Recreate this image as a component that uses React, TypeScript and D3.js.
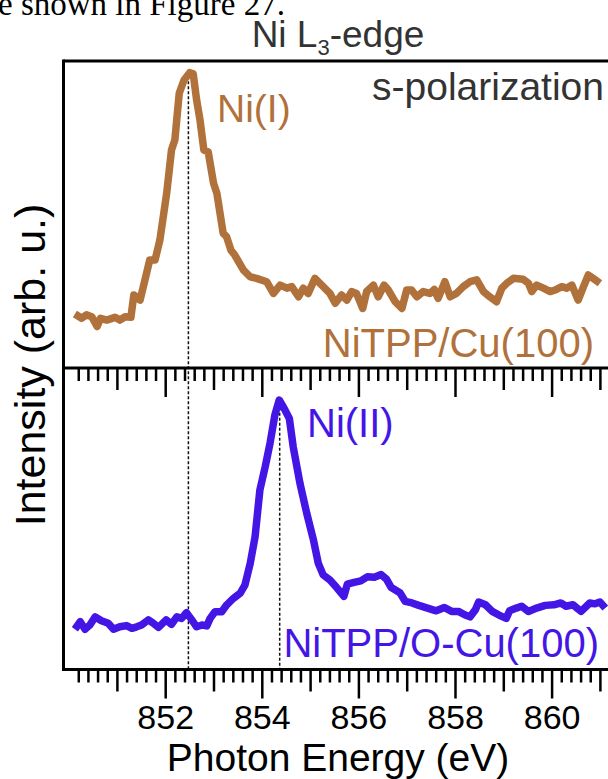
import * as d3 from 'd3';

// Ni L3-edge NEXAFS, s-polarization
const topEnergy = [850.12, 850.26, 850.36, 850.47, 850.58, 850.65, 850.78, 850.95, 851.05, 851.16, 851.28, 851.34, 851.47, 851.67, 851.78, 851.88, 852.02, 852.12, 852.19, 852.28, 852.38, 852.5, 852.57, 852.64, 852.71, 852.79, 852.88, 852.99, 853.06, 853.19, 853.26, 853.35, 853.43, 853.61, 853.75, 853.88, 854.09, 854.23, 854.37, 854.51, 854.61, 854.75, 854.85, 854.95, 855.09, 855.23, 855.4, 855.51, 855.64, 855.75, 855.85, 855.95, 856.08, 856.16, 856.3, 856.4, 856.52, 856.61, 856.75, 856.89, 856.99, 857.09, 857.2, 857.33, 857.47, 857.56, 857.64, 857.78, 857.89, 858.02, 858.16, 858.3, 858.44, 858.58, 858.71, 858.85, 858.96, 859.06, 859.2, 859.4, 859.51, 859.58, 859.68, 859.82, 859.96, 860.06, 860.2, 860.3, 860.41, 860.54, 860.65, 860.75, 860.85, 860.99];
const topIntensity = [0.176, 0.162, 0.173, 0.167, 0.135, 0.162, 0.156, 0.165, 0.156, 0.167, 0.165, 0.238, 0.221, 0.352, 0.352, 0.417, 0.569, 0.71, 0.743, 0.895, 0.938, 0.962, 0.958, 0.873, 0.808, 0.71, 0.704, 0.602, 0.569, 0.439, 0.428, 0.384, 0.368, 0.319, 0.297, 0.292, 0.281, 0.243, 0.27, 0.26, 0.265, 0.232, 0.26, 0.243, 0.292, 0.27, 0.243, 0.211, 0.238, 0.221, 0.249, 0.243, 0.194, 0.249, 0.27, 0.232, 0.27, 0.254, 0.216, 0.194, 0.254, 0.254, 0.232, 0.249, 0.243, 0.256, 0.227, 0.281, 0.232, 0.243, 0.265, 0.281, 0.287, 0.249, 0.232, 0.216, 0.26, 0.276, 0.292, 0.289, 0.276, 0.249, 0.27, 0.26, 0.249, 0.254, 0.265, 0.26, 0.27, 0.221, 0.265, 0.303, 0.292, 0.276];

const botEnergy = [850.12, 850.23, 850.33, 850.43, 850.54, 850.67, 850.81, 850.92, 851.05, 851.19, 851.3, 851.4, 851.5, 851.64, 851.74, 851.85, 852.01, 852.12, 852.23, 852.33, 852.43, 852.54, 852.64, 852.75, 852.85, 852.92, 853.02, 853.16, 853.26, 853.4, 853.54, 853.64, 853.75, 853.85, 853.95, 854.06, 854.16, 854.26, 854.35, 854.45, 854.56, 854.64, 854.78, 854.92, 855.06, 855.16, 855.26, 855.4, 855.54, 855.69, 855.76, 855.9, 856.04, 856.18, 856.32, 856.46, 856.57, 856.67, 856.85, 856.96, 857.1, 857.24, 857.42, 857.6, 857.77, 857.92, 858.06, 858.2, 858.3, 858.41, 858.48, 858.62, 858.76, 858.9, 859.05, 859.12, 859.26, 859.37, 859.51, 859.68, 859.86, 860.04, 860.18, 860.29, 860.43, 860.6, 860.78, 860.89, 860.99, 861.1];
const botIntensity = [0.135, 0.16, 0.135, 0.149, 0.176, 0.163, 0.155, 0.135, 0.143, 0.147, 0.138, 0.143, 0.149, 0.166, 0.155, 0.141, 0.166, 0.151, 0.176, 0.171, 0.19, 0.166, 0.143, 0.149, 0.146, 0.171, 0.193, 0.193, 0.215, 0.237, 0.254, 0.281, 0.353, 0.441, 0.596, 0.673, 0.751, 0.844, 0.894, 0.867, 0.833, 0.739, 0.618, 0.519, 0.43, 0.353, 0.315, 0.298, 0.273, 0.244, 0.284, 0.29, 0.295, 0.309, 0.307, 0.316, 0.301, 0.273, 0.256, 0.227, 0.222, 0.214, 0.205, 0.196, 0.207, 0.194, 0.194, 0.182, 0.176, 0.199, 0.225, 0.216, 0.194, 0.182, 0.171, 0.196, 0.205, 0.211, 0.194, 0.205, 0.214, 0.216, 0.222, 0.211, 0.216, 0.194, 0.222, 0.219, 0.225, 0.205];

const tickLabels = [852, 854, 856, 858, 860];
const peakLines = [852.47, 854.36];
const peakTops = [0.95, 0.885];

const brown = '#b0713b';
const blue = '#4316e6';
const font = '"Liberation Sans", Arial, sans-serif';

export default function App() {
  const W = 608;
  const H = 779;
  const x = d3.scaleLinear([852, 860], [165.7, 552.1]);
  const yTop = d3.scaleLinear([0, 1], [368, 61]);
  const yBot = d3.scaleLinear([0, 1], [670, 368]);
  const left = 63.5;

  const lineTop = d3.line<number>().x((d, i) => x(topEnergy[i])).y(d => yTop(d));
  const lineBot = d3.line<number>().x((d, i) => x(botEnergy[i])).y(d => yBot(d));

  // minor ticks every 0.2 eV starting at 850.2
  const ticks = d3.range(1, 56).map(i => +(850 + i * 0.2).toFixed(1));
  const tickLen = (v: number) => {
    if (Math.abs(v - Math.round(v)) > 0.01) return 13;
    return Math.round(v) % 2 === 0 ? 29 : 22;
  };

  const axisTicks = (y0: number) =>
    ticks.filter(v => x(v) < W + 2).map(v => (
      <line key={v} x1={x(v)} x2={x(v)} y1={y0} y2={y0 + tickLen(v)} stroke="#000" strokeWidth={2.5} />
    ));

  return (
    <svg width={W} height={H} style={{ position: 'absolute', left: 0, top: 0, background: '#fff' }}>
      <text x={-2} y={15} fontFamily='"Liberation Serif", "Times New Roman", serif' fontSize={33} fill="#000">e shown in Figure 27.</text>

      <text x={338} y={47} textAnchor="middle" fontFamily={font} fontSize={37} fill="#333">
        Ni L<tspan fontSize={22} dy={8}>3</tspan><tspan dy={-8}>-edge</tspan>
      </text>

      {/* dotted peak markers */}
      <line x1={x(peakLines[0])} x2={x(peakLines[0])} y1={yTop(peakTops[0])} y2={670} stroke="#111" strokeWidth={1.5} strokeDasharray="3,2" />
      <line x1={x(peakLines[1])} x2={x(peakLines[1])} y1={yBot(peakTops[1])} y2={670} stroke="#111" strokeWidth={1.5} strokeDasharray="3,2" />

      <path d={lineTop(topIntensity) ?? ''} fill="none" stroke={brown} strokeWidth={7.5} strokeLinejoin="round" />
      <path d={lineBot(botIntensity) ?? ''} fill="none" stroke={blue} strokeWidth={7.5} strokeLinejoin="round" />

      {/* frame */}
      <line x1={left} x2={W + 5} y1={61} y2={61} stroke="#000" strokeWidth={3} />
      <line x1={left} x2={left} y1={59.5} y2={671} stroke="#000" strokeWidth={3} />
      <line x1={left} x2={W + 5} y1={368} y2={368} stroke="#000" strokeWidth={3} />
      <line x1={left} x2={W + 5} y1={669.5} y2={669.5} stroke="#000" strokeWidth={3} />
      {axisTicks(368)}
      {axisTicks(669.5)}

      {tickLabels.map(v => (
        <text key={v} x={x(v)} y={729} textAnchor="middle" fontFamily={font} fontSize={34} fill="#000">{v}</text>
      ))}
      <text x={338} y={771} textAnchor="middle" fontFamily={font} fontSize={39} fill="#000">Photon Energy (eV)</text>
      <text transform="translate(45,365) rotate(-90)" textAnchor="middle" fontFamily={font} fontSize={43} fill="#000">Intensity (arb. u.)</text>

      <text x={604} y={100} textAnchor="end" fontFamily={font} fontSize={39} fill="#333">s-polarization</text>
      <text x={217} y={122} fontFamily={font} fontSize={39} fill={brown}>Ni(I)</text>
      <text x={594} y={357} textAnchor="end" fontFamily={font} fontSize={40} fill={brown}>NiTPP/Cu(100)</text>
      <text x={307} y={437} fontFamily={font} fontSize={40} fill={blue}>Ni(II)</text>
      <text x={599} y={657} textAnchor="end" fontFamily={font} fontSize={40} fill={blue}>NiTPP/O-Cu(100)</text>
    </svg>
  );
}
